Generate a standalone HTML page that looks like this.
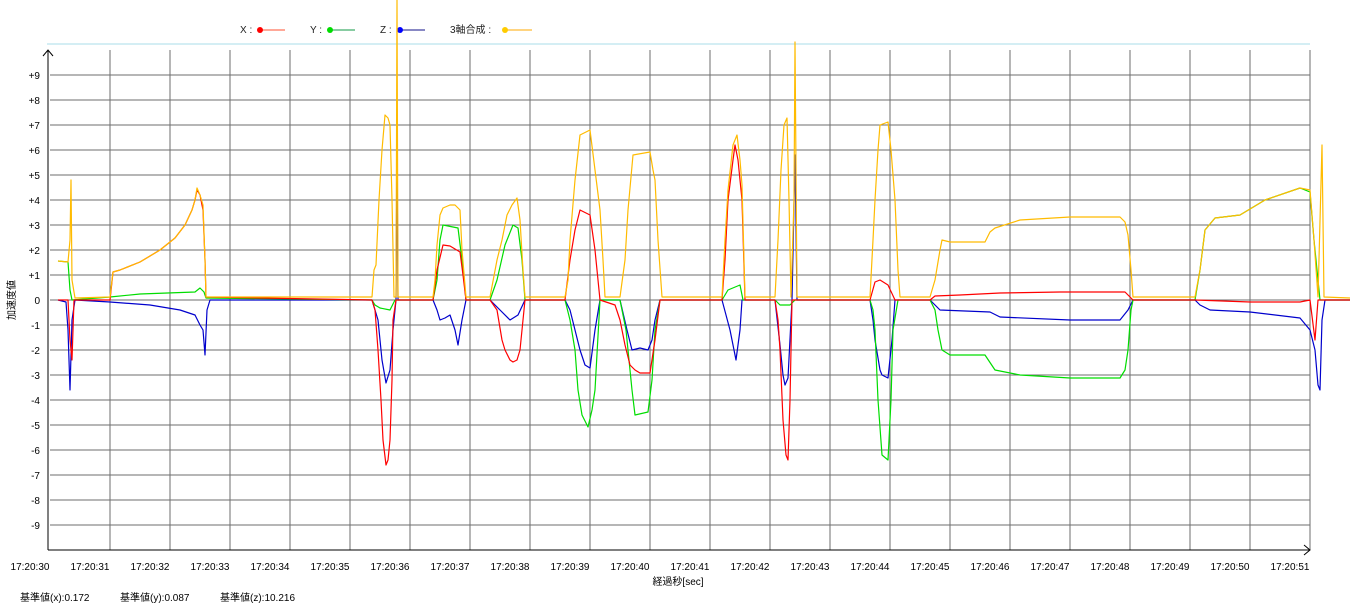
<!DOCTYPE html>
<html><head><meta charset="utf-8"><style>
body{margin:0;background:#fff;}
svg{display:block;font-family:"Liberation Sans","Noto Sans CJK JP",sans-serif;}
</style></head><body>
<svg width="1350" height="610" viewBox="0 0 1350 610" xmlns="http://www.w3.org/2000/svg">
<rect width="1350" height="610" fill="#fff"/>
<line x1="47" y1="44" x2="1310" y2="44" stroke="#a8dce8" stroke-width="1"/>
<g stroke="#6e6e6e" stroke-width="1">
<line x1="50" y1="75" x2="1310" y2="75"/><line x1="50" y1="100" x2="1310" y2="100"/><line x1="50" y1="125" x2="1310" y2="125"/><line x1="50" y1="150" x2="1310" y2="150"/><line x1="50" y1="175" x2="1310" y2="175"/><line x1="50" y1="200" x2="1310" y2="200"/><line x1="50" y1="225" x2="1310" y2="225"/><line x1="50" y1="250" x2="1310" y2="250"/><line x1="50" y1="275" x2="1310" y2="275"/><line x1="50" y1="300" x2="1310" y2="300"/><line x1="50" y1="325" x2="1310" y2="325"/><line x1="50" y1="350" x2="1310" y2="350"/><line x1="50" y1="375" x2="1310" y2="375"/><line x1="50" y1="400" x2="1310" y2="400"/><line x1="50" y1="425" x2="1310" y2="425"/><line x1="50" y1="450" x2="1310" y2="450"/><line x1="50" y1="475" x2="1310" y2="475"/><line x1="50" y1="500" x2="1310" y2="500"/><line x1="50" y1="525" x2="1310" y2="525"/>
<line x1="110" y1="50" x2="110" y2="550"/><line x1="170" y1="50" x2="170" y2="550"/><line x1="230" y1="50" x2="230" y2="550"/><line x1="290" y1="50" x2="290" y2="550"/><line x1="350" y1="50" x2="350" y2="550"/><line x1="410" y1="50" x2="410" y2="550"/><line x1="470" y1="50" x2="470" y2="550"/><line x1="530" y1="50" x2="530" y2="550"/><line x1="590" y1="50" x2="590" y2="550"/><line x1="650" y1="50" x2="650" y2="550"/><line x1="710" y1="50" x2="710" y2="550"/><line x1="770" y1="50" x2="770" y2="550"/><line x1="830" y1="50" x2="830" y2="550"/><line x1="890" y1="50" x2="890" y2="550"/><line x1="950" y1="50" x2="950" y2="550"/><line x1="1010" y1="50" x2="1010" y2="550"/><line x1="1070" y1="50" x2="1070" y2="550"/><line x1="1130" y1="50" x2="1130" y2="550"/><line x1="1190" y1="50" x2="1190" y2="550"/><line x1="1250" y1="50" x2="1250" y2="550"/><line x1="1310" y1="50" x2="1310" y2="550"/>
</g>
<g stroke="#000" stroke-width="1" fill="none">
<line x1="48" y1="50" x2="48" y2="550"/><line x1="48" y1="550" x2="1310" y2="550"/>
<polyline points="43,56 48,50 53,56"/><polyline points="1304,545 1310,550 1304,555"/>
</g>
<g font-size="10" fill="#000" text-anchor="end">
<text x="40" y="79">+9</text><text x="40" y="104">+8</text><text x="40" y="129">+7</text><text x="40" y="154">+6</text><text x="40" y="179">+5</text><text x="40" y="204">+4</text><text x="40" y="229">+3</text><text x="40" y="254">+2</text><text x="40" y="279">+1</text><text x="40" y="304">0</text><text x="40" y="329">-1</text><text x="40" y="354">-2</text><text x="40" y="379">-3</text><text x="40" y="404">-4</text><text x="40" y="429">-5</text><text x="40" y="454">-6</text><text x="40" y="479">-7</text><text x="40" y="504">-8</text><text x="40" y="529">-9</text>
</g>
<g font-size="10" fill="#000" text-anchor="middle">
<text x="30" y="570">17:20:30</text><text x="90" y="570">17:20:31</text><text x="150" y="570">17:20:32</text><text x="210" y="570">17:20:33</text><text x="270" y="570">17:20:34</text><text x="330" y="570">17:20:35</text><text x="390" y="570">17:20:36</text><text x="450" y="570">17:20:37</text><text x="510" y="570">17:20:38</text><text x="570" y="570">17:20:39</text><text x="630" y="570">17:20:40</text><text x="690" y="570">17:20:41</text><text x="750" y="570">17:20:42</text><text x="810" y="570">17:20:43</text><text x="870" y="570">17:20:44</text><text x="930" y="570">17:20:45</text><text x="990" y="570">17:20:46</text><text x="1050" y="570">17:20:47</text><text x="1110" y="570">17:20:48</text><text x="1170" y="570">17:20:49</text><text x="1230" y="570">17:20:50</text><text x="1290" y="570">17:20:51</text>
<text x="678" y="585">経過秒[sec]</text>
<text transform="translate(15,300) rotate(-90)">加速度値</text>
</g>
<text x="20" y="601" font-size="10">基準値(x):0.172</text>
<text x="120" y="601" font-size="10">基準値(y):0.087</text>
<text x="220" y="601" font-size="10">基準値(z):10.216</text>
<g font-size="10" fill="#222">
<text x="240" y="33">X :</text><line x1="260" y1="30" x2="285" y2="30" stroke="#ff5030"/><circle cx="260" cy="30" r="3" fill="#f00"/>
<text x="310" y="33">Y :</text><line x1="330" y1="30" x2="355" y2="30" stroke="#119944"/><circle cx="330" cy="30" r="3" fill="#0d0"/>
<text x="380" y="33">Z :</text><line x1="400" y1="30" x2="425" y2="30" stroke="#111188"/><circle cx="400" cy="30" r="3" fill="#00f"/>
<text x="450" y="33">3軸合成 :</text><line x1="505" y1="30" x2="532" y2="30" stroke="#ffaa00"/><circle cx="505" cy="30" r="3" fill="#ffcc00"/>
</g>
<g fill="none" stroke-width="1.2" stroke-linejoin="round">
<polyline stroke="#0000cc" points="58,300 66,302 68,330 70,390 72,320 75,300 110,302 150,305 180,310 195,315 200,325 203,330 205,355 207,310 210,300 372,300 378,320 382,360 386,383 390,370 393,330 396,300 397,145 398,300 433,300 437,310 440,320 445,318 450,315 455,330 458,345 462,320 466,300 490,300 500,310 510,320 518,315 525,300 565,300 570,310 575,330 580,350 585,365 590,368 595,330 600,300 620,300 627,330 632,350 640,348 648,350 652,340 655,320 660,300 722,300 726,315 730,330 736,360 740,330 742,300 775,300 780,345 783,375 785,385 788,378 792,300 795,155 797,300 870,300 873,320 875,340 880,370 882,375 888,378 892,340 895,300 930,300 935,305 940,310 990,312 1000,317 1070,320 1120,320 1128,310 1133,300 1195,300 1200,305 1210,310 1250,312 1300,318 1310,330 1315,350 1318,385 1320,390 1322,320 1325,300 1350,300"/>
<polyline stroke="#00dd00" points="58,261 68,262 70,290 72,300 110,297 140,294 195,292 200,288 204,292 206,298 372,300 375,305 380,308 390,310 395,300 433,300 437,280 440,240 443,225 458,228 462,260 466,300 490,300 497,280 505,245 513,225 518,228 522,260 525,300 565,300 570,320 575,350 578,390 582,415 588,427 592,410 595,390 600,300 620,300 626,330 632,390 635,415 648,412 652,380 655,330 660,300 722,300 728,290 740,285 743,300 775,300 780,305 790,305 795,300 870,300 873,310 875,330 878,400 882,455 888,460 891,400 893,330 898,300 930,300 935,310 938,330 942,350 950,355 985,355 995,370 1020,375 1070,378 1120,378 1125,370 1128,350 1131,310 1133,300 1195,300 1200,270 1205,230 1215,218 1240,215 1265,200 1300,188 1310,192 1314,240 1318,280 1320,300 1350,300"/>
<polyline stroke="#ff0000" points="58,300 68,300 70,340 72,360 74,300 110,300 113,272 120,270 140,262 160,250 175,238 185,225 192,210 195,200 197,190 200,195 203,210 205,260 206,297 372,300 375,310 378,350 381,400 383,440 386,465 388,460 390,440 392,380 393,320 396,300 433,300 437,270 443,245 450,246 460,252 463,275 466,300 490,300 497,310 502,340 505,350 510,360 513,362 517,360 520,350 525,300 565,300 570,260 575,230 580,210 590,215 595,250 600,300 615,305 620,320 625,345 630,365 635,370 640,373 650,373 655,340 660,300 722,300 725,260 728,200 733,160 735,145 738,160 742,200 745,300 775,300 778,320 780,350 783,420 786,455 788,460 790,400 792,300 870,300 875,282 880,280 888,285 895,300 930,300 935,296 960,295 1000,293 1060,292 1125,292 1133,300 1195,300 1250,302 1300,302 1310,300 1315,340 1318,300 1350,300"/>
<polyline stroke="#ffbb00" points="58,261 68,262 70,240 71,180 72,280 75,298 110,297 113,272 120,270 140,262 160,250 175,238 185,225 192,210 195,200 197,188 200,195 203,205 205,260 206,297 372,297 374,270 376,265 379,200 382,150 385,115 388,118 390,125 392,200 394,297 396,297 397,0 398,297 433,297 435,280 437,245 440,215 443,208 450,205 455,205 460,210 462,250 466,297 490,297 497,260 502,240 507,215 512,205 517,198 520,220 523,270 525,297 565,297 568,280 570,240 575,180 580,135 590,130 595,170 600,210 603,260 605,297 620,297 625,260 628,210 633,155 650,152 653,170 655,180 658,240 662,297 722,297 725,240 728,190 733,145 737,135 740,160 742,185 745,297 775,297 778,240 781,170 784,125 787,118 789,200 791,297 794,200 795,42 797,297 870,297 873,240 875,200 878,150 880,125 888,122 891,150 895,200 898,270 900,297 930,297 935,280 940,250 942,240 950,242 985,242 990,232 995,228 1020,220 1070,217 1120,217 1125,222 1128,235 1131,270 1133,297 1195,297 1200,270 1205,230 1215,218 1240,215 1265,200 1300,188 1310,190 1314,240 1318,297 1322,145 1324,297 1350,298"/>
</g>
</svg>
</body></html>
